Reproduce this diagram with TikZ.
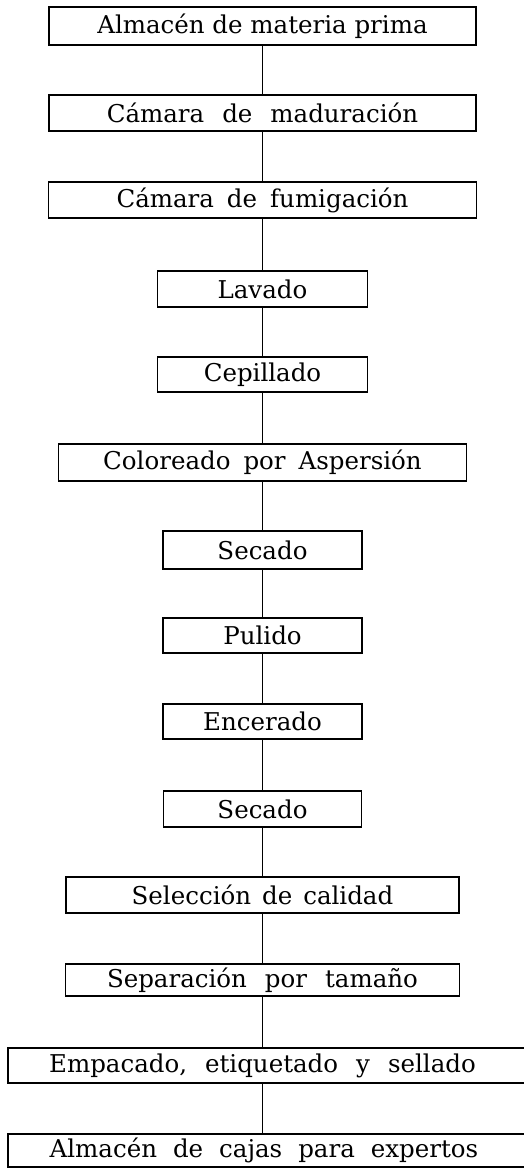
\documentclass[tikz,border=0pt]{standalone}
\usepackage{fontspec}
\setmainfont{DejaVu Serif}
\usepackage{tikz}

\begin{document}
\begin{tikzpicture}[x=1pt, y=-1pt,
  etapa/.style = {draw, line width=1.9pt, inner sep=0pt, minimum height=36pt,
                  font=\fontsize{24.5}{29}\selectfont},
  espacio/.style = {font={\fontsize{24.5}{29}\selectfont\spaceskip=#1\relax}},
  flujo/.style = {line width=1.9pt}]
\useasboundingbox (0,0) rectangle (523,1169);

\node[etapa, minimum width=427pt, minimum height=38pt] (alm) at (262.5,26) {Almacén de materia prima};
\node[etapa, espacio=18pt, minimum width=427pt] (mad) at (262.5,113) {Cámara de maduración};
\node[etapa, espacio=13pt, minimum width=428pt] (fum) at (262.5,200) {Cámara de fumigación};
\node[etapa, minimum width=210pt] (lav) at (262.5,289) {Lavado};
\node[etapa, minimum width=210pt, minimum height=35pt] (cep) at (262.5,374.5) {Cepillado};
\node[etapa, espacio=13pt, minimum width=408pt, minimum height=37pt] (col) at (262.5,462.5) {Coloreado por Aspersión};
\node[etapa, minimum width=199pt, minimum height=38pt] (sec) at (262.5,550) {Secado};
\node[etapa, minimum width=199pt, minimum height=35pt] (pul) at (262.5,635.5) {Pulido};
\node[etapa, minimum width=199pt, minimum height=35pt] (enc) at (262.5,721.5) {Encerado};
\node[etapa, minimum width=198pt] (seca) at (262.5,809) {Secado};
\node[etapa, espacio=11pt, minimum width=393pt] (sel) at (262.5,895) {Selección de calidad};
\node[etapa, espacio=18pt, minimum width=394pt, minimum height=32pt] (sep) at (262.5,980) {Separación por tamaño};
\node[etapa, espacio=18pt, minimum width=522pt, minimum height=35pt] (emp) at (269,1065.5) {\hspace*{-13pt}Empacado, etiquetado y sellado};
\node[etapa, espacio=16pt, minimum width=522pt, minimum height=33pt] (caj) at (269,1150.5) {\hspace*{-10pt}Almacén de cajas para expertos};

% lineas del flujo
\draw[flujo] (alm) -- (mad);
\draw[flujo] (mad) -- (fum);
\draw[flujo] (fum) -- (lav);
\draw[flujo] (lav) -- (cep);
\draw[flujo] (cep) -- (col);
\draw[flujo] (col) -- (sec);
\draw[flujo] (sec) -- (pul);
\draw[flujo] (pul) -- (enc);
\draw[flujo] (enc) -- (seca);
\draw[flujo] (seca) -- (sel);
\draw[flujo] (sel) -- (sep);
\draw[flujo] (sep) -- (sep.south |- emp.north);
\draw[flujo] (emp.south -| sep.south) -- (caj.north -| sep.south);
\end{tikzpicture}
\end{document}
